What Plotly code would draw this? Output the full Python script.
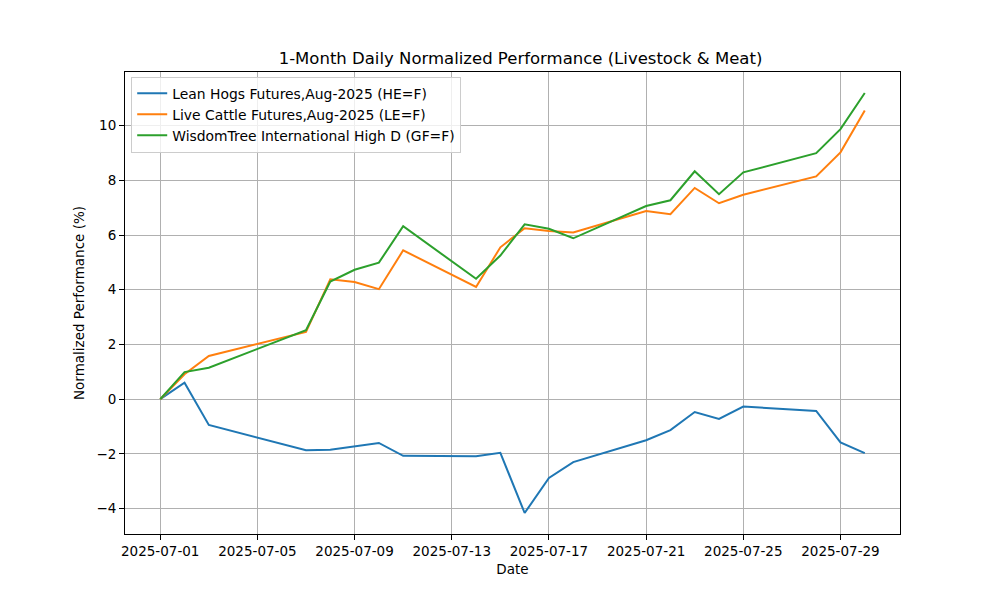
import plotly.graph_objects as go
import pandas as pd

dates = ["2025-07-01", "2025-07-02", "2025-07-03", "2025-07-07", "2025-07-08",
         "2025-07-09", "2025-07-10", "2025-07-11", "2025-07-14", "2025-07-15",
         "2025-07-16", "2025-07-17", "2025-07-18", "2025-07-21", "2025-07-22",
         "2025-07-23", "2025-07-24", "2025-07-25", "2025-07-28", "2025-07-29",
         "2025-07-30"]

lean_hogs = [0.0, 0.60, -0.94, -1.87, -1.85, -1.73, -1.60, -2.07, -2.09, -1.96,
             -4.16, -2.88, -2.30, -1.50, -1.13, -0.47, -0.72, -0.27, -0.43, -1.58,
             -1.97]
live_cattle = [0.0, 0.91, 1.58, 2.46, 4.38, 4.28, 4.02, 5.44, 4.10, 5.55,
               6.25, 6.15, 6.09, 6.88, 6.76, 7.72, 7.16, 7.47, 8.14, 9.02,
               10.55]
wisdomtree = [0.0, 0.99, 1.15, 2.52, 4.30, 4.73, 4.99, 6.32, 4.40, 5.25,
              6.39, 6.23, 5.88, 7.06, 7.27, 8.33, 7.49, 8.29, 8.99, 9.87,
              11.19]

series_names = ["Lean Hogs Futures,Aug-2025 (HE=F)",
                "Live Cattle Futures,Aug-2025 (LE=F)",
                "WisdomTree International High D (GF=F)"]
colors = ["#1f77b4", "#ff7f0e", "#2ca02c"]
tick_dates = ["2025-07-01", "2025-07-05", "2025-07-09", "2025-07-13",
              "2025-07-17", "2025-07-21", "2025-07-25", "2025-07-29"]

x = pd.to_datetime(dates)
fig = go.Figure()
for name, vals, c in zip(series_names, [lean_hogs, live_cattle, wisdomtree], colors):
    fig.add_trace(go.Scatter(x=x, y=vals, mode="lines", name=name,
                             line=dict(color=c, width=2)))

# matplotlib-like 5% margins
xmin, xmax = x.min(), x.max()
span = xmax - xmin
allv = lean_hogs + live_cattle + wisdomtree
ymin, ymax = min(allv), max(allv)
yspan = ymax - ymin

font = "DejaVu Sans"
fig.update_layout(
    width=1000, height=600,
    margin=dict(l=117, r=108, t=64, b=74),
    paper_bgcolor="white", plot_bgcolor="white",
    font=dict(family=font, size=13, color="black"),
    title=dict(text="1-Month Daily Normalized Performance (Livestock & Meat)",
               x=0.5125, xanchor="center", y=0.906, yanchor="bottom",
               font=dict(size=16.5, family=font)),
    showlegend=True,
    legend=dict(x=0.008, y=0.99, xanchor="left", yanchor="top",
                bgcolor="rgba(255,255,255,0.8)", bordercolor="#cccccc",
                borderwidth=1, font=dict(size=13.9, family=font),
                tracegroupgap=0, itemwidth=30),
)
fig.update_xaxes(
    range=[xmin - span * 0.05, xmax + span * 0.05],
    tickmode="array", tickvals=pd.to_datetime(tick_dates),
    ticktext=tick_dates,
    showgrid=True, gridcolor="#b0b0b0", gridwidth=1,
    showline=True, linecolor="black", linewidth=1, mirror=True,
    ticks="outside", ticklen=5, tickcolor="black",
    tickfont=dict(size=13.5),
    title=dict(text="Date", font=dict(size=13.5), standoff=6),
    zeroline=False,
)
fig.update_yaxes(
    range=[ymin - yspan * 0.05, ymax + yspan * 0.05],
    tickmode="array", tickvals=[-4, -2, 0, 2, 4, 6, 8, 10],
    ticktext=["\u22124", "\u22122", "0", "2", "4", "6", "8", "10"],
    showgrid=True, gridcolor="#b0b0b0", gridwidth=1,
    showline=True, linecolor="black", linewidth=1, mirror=True,
    ticks="outside", ticklen=5, tickcolor="black",
    tickfont=dict(size=13.5),
    title=dict(text="Normalized Performance (%)", font=dict(size=13.5), standoff=8),
    zeroline=False,
)

fig.write_html("out.html")
